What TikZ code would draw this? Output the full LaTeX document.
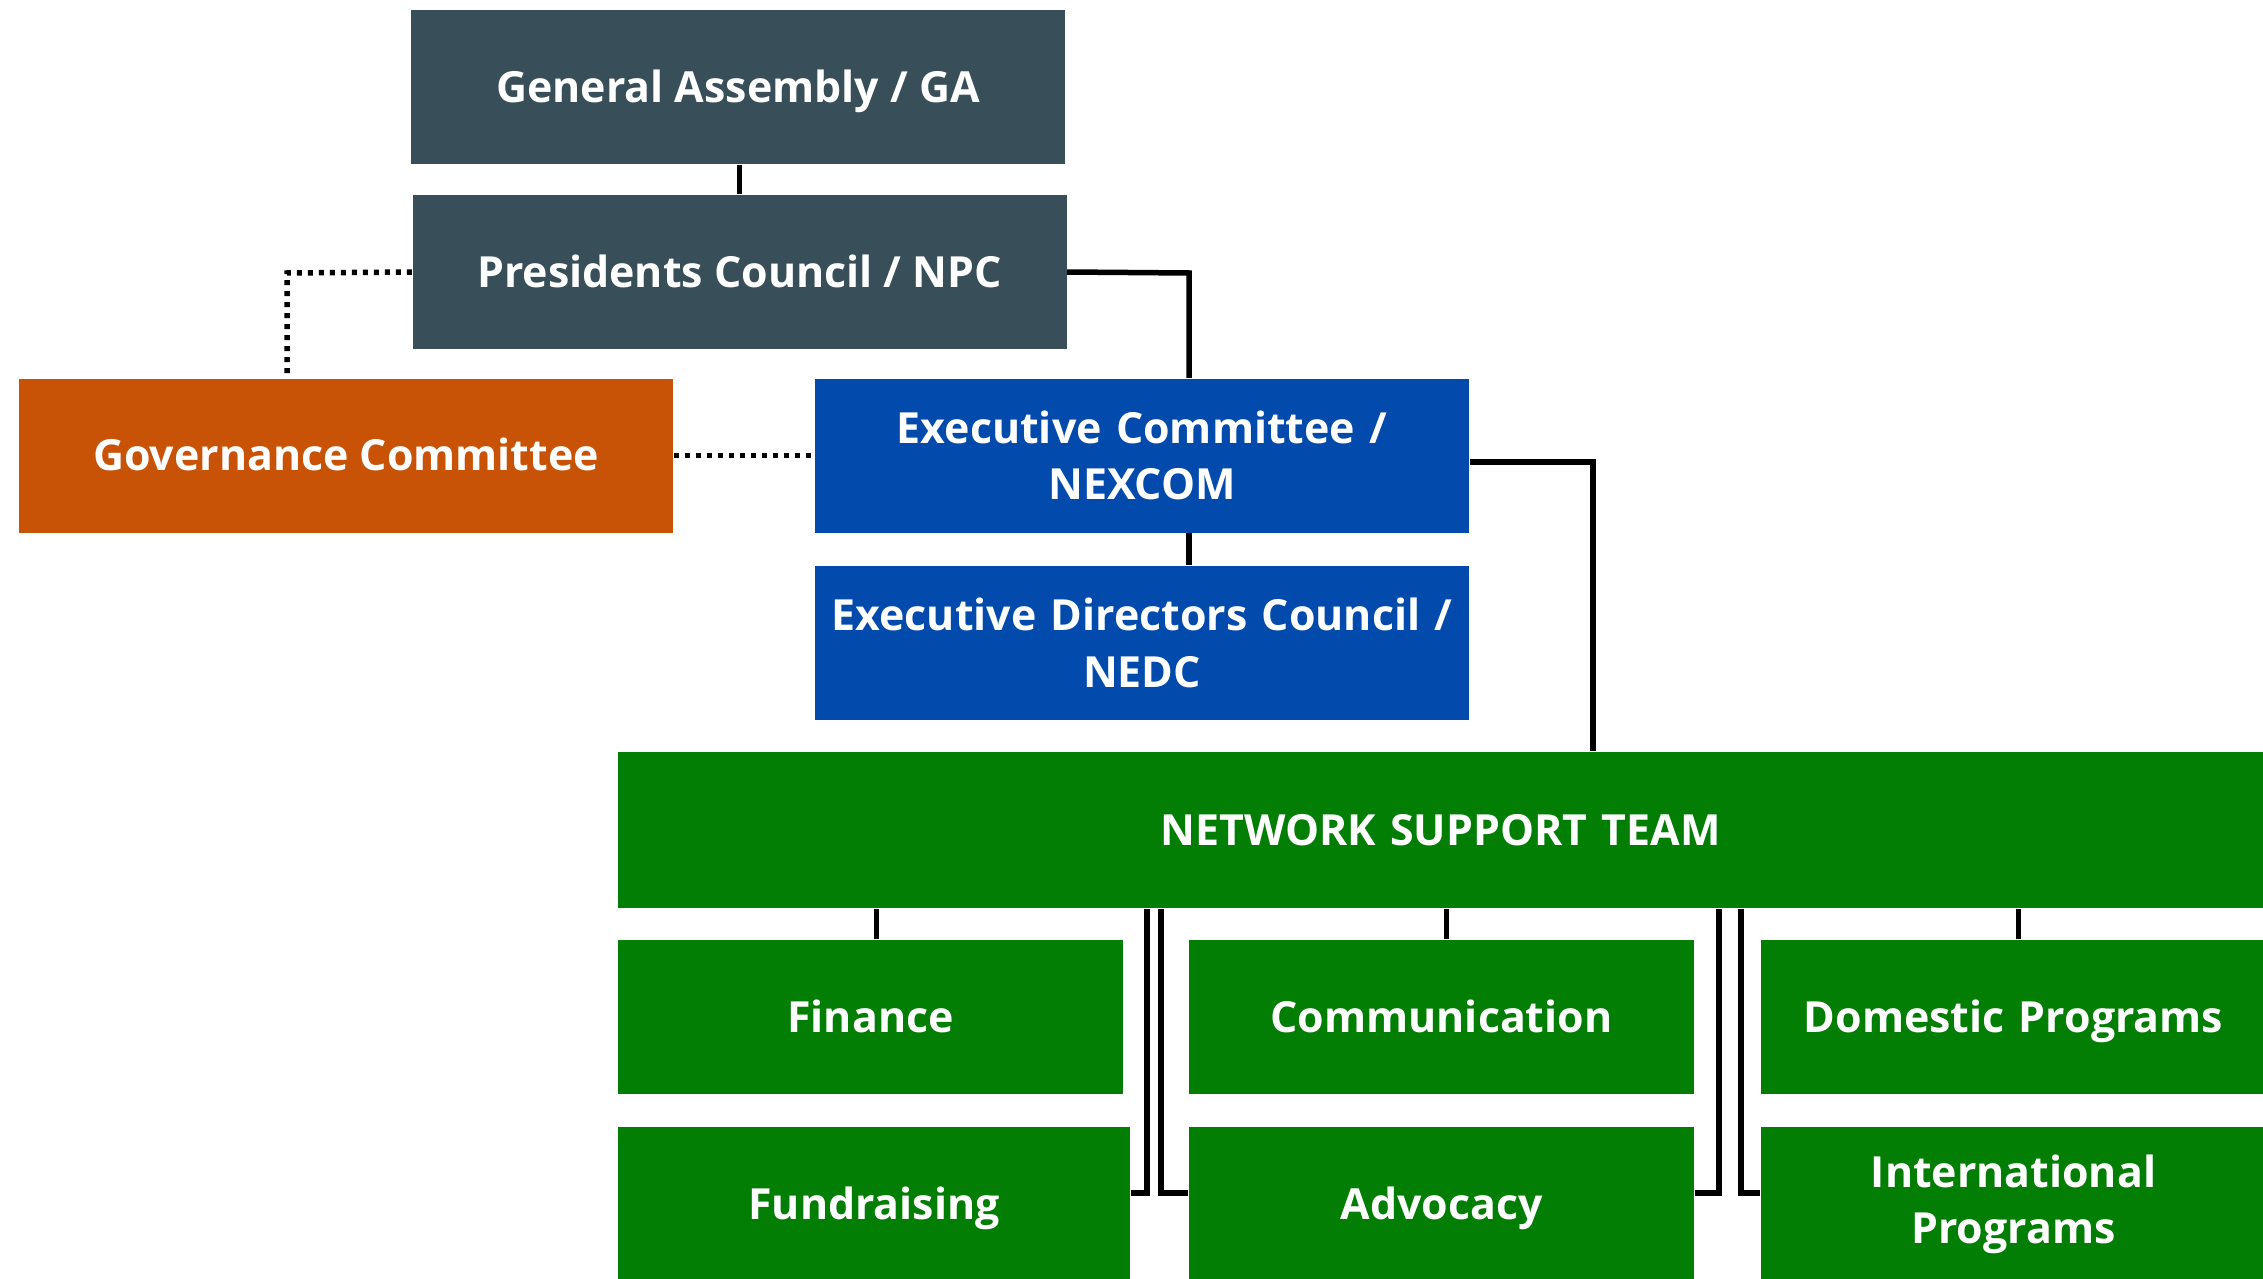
\documentclass[tikz,border=0pt]{standalone}
\usepackage{fontspec}
\setmainfont{Open Sans}
\usetikzlibrary{calc,positioning}
\definecolor{slategrey}{RGB}{56,79,90}
\definecolor{burntorange}{RGB}{200,82,6}
\definecolor{cobalt}{RGB}{2,74,172}
\definecolor{leafgreen}{RGB}{2,126,4}
\tikzstyle{box} = [rectangle, inner sep=0pt, text=white, align=center, font=\fontsize{12.2}{16}\selectfont\bfseries, minimum height=1.54cm]
\tikzstyle{oneline} = [text height=8.7pt, text depth=0pt]
\tikzstyle{slatebox} = [box, oneline, fill=slategrey, minimum width=6.54cm]
\tikzstyle{orangebox} = [box, oneline, fill=burntorange, minimum width=6.54cm]
\tikzstyle{bluebox} = [box, fill=cobalt, minimum width=6.54cm, text width=6.3cm]
\tikzstyle{greenbox} = [box, fill=leafgreen, minimum width=5.05cm, text width=4.9cm]
\tikzstyle{link} = [line width=0.055cm, black]
\tikzstyle{dotlink} = [line width=0.055cm, black, dash pattern=on 0.05cm off 0.06cm]

\begin{document}
\begin{tikzpicture}
\useasboundingbox (0,0) rectangle (22.63,-12.79);
\fill [white] (0,0) rectangle (22.63,-12.79);
\draw (7.38,-0.875) node (ga) [slatebox] {General Assembly / GA};
\draw (7.395,-2.72) node (npc) [slatebox] {Presidents Council / NPC};
\draw (3.46,-4.555) node (gov) [orangebox] {Governance Committee};
\draw (11.42,-4.555) node (nexcom) [bluebox] {Executive Committee /\\NEXCOM};
\draw (11.42,-6.43) node (nedc) [bluebox] {Executive Directors Council /\\NEDC};
\draw (14.405,-8.30) node (nst) [greenbox, oneline, minimum width=16.45cm, text width=16cm, minimum height=1.56cm] {NETWORK SUPPORT TEAM};
\draw (8.705,-10.17) node (fin) [greenbox, oneline] {Finance};
\draw (8.74,-12.04) node (fund) [greenbox, oneline, minimum width=5.12cm] {Fundraising};
\draw (14.415,-10.17) node (comm) [greenbox, oneline] {Communication};
\draw (14.415,-12.04) node (adv) [greenbox, oneline] {Advocacy};
\draw (20.135,-10.17) node (dom) [greenbox, oneline] {Domestic Programs};
\draw (20.135,-12.04) node (intl) [greenbox] {International\\Programs};
%
\coordinate (c1) at (11.89,-2.73);
\coordinate (c2) at (15.93,-4.62);
\coordinate (c3) at (2.87,-2.73);
\coordinate (j1) at (11.47,-11.93);
\coordinate (j2) at (11.61,-11.93);
\coordinate (j3) at (17.19,-11.93);
\coordinate (j4) at (17.41,-11.93);
\draw [link] (npc.north) -- (npc.north |- ga.south);
\draw [link] (npc.east) -- (c1) -- (c1 |- nexcom.north);
\draw [link] (c1 |- nexcom.south) -- (c1 |- nedc.north);
\draw [link] (nexcom.east |- c2) -- (c2) -- (c2 |- nst.north);
\draw [dotlink] (npc.west) -- (c3) -- (c3 |- gov.north);
\draw [dotlink] (gov.east) -- (nexcom.west);
\draw [link] ([xshift=0.06cm]fin.north) -- ([xshift=0.06cm]fin.north |- nst.south);
\draw [link] ([xshift=0.05cm]comm.north) -- ([xshift=0.05cm]comm.north |- nst.south);
\draw [link] ([xshift=0.05cm]dom.north) -- ([xshift=0.05cm]dom.north |- nst.south);
\draw [link] (fund.east |- j1) -- (j1) -- (j1 |- nst.south);
\draw [link] (adv.west |- j2) -- (j2) -- (j2 |- nst.south);
\draw [link] (adv.east |- j3) -- (j3) -- (j3 |- nst.south);
\draw [link] (intl.west |- j4) -- (j4) -- (j4 |- nst.south);
\end{tikzpicture}
\end{document}
